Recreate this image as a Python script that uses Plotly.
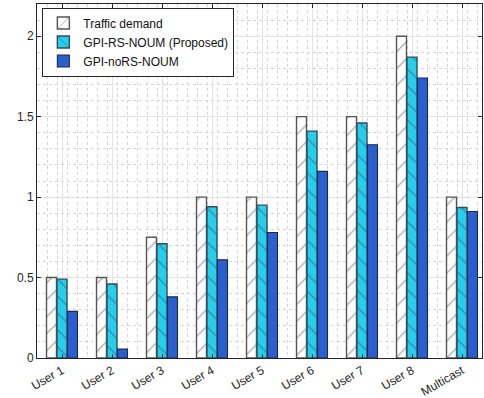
import plotly.graph_objects as go

categories = ["User 1", "User 2", "User 3", "User 4", "User 5", "User 6", "User 7", "User 8", "Multicast"]
traffic_demand = [0.5, 0.5, 0.75, 1.0, 1.0, 1.5, 1.5, 2.0, 1.0]
gpi_rs_noum = [0.49, 0.46, 0.71, 0.94, 0.95, 1.41, 1.46, 1.87, 0.935]
gpi_nors_noum = [0.29, 0.055, 0.38, 0.61, 0.78, 1.16, 1.325, 1.74, 0.91]
y_ticks = [0, 0.5, 1, 1.5, 2]
y_ticklabels = ["0", "0.5", "1", "1.5", "2"]

x = list(range(1, len(categories) + 1))

fig = go.Figure()
fig.add_trace(go.Bar(
    x=x, y=traffic_demand, name="Traffic demand",
    marker=dict(color="white", line=dict(color="#555555", width=1.4),
                pattern=dict(shape="/", fgcolor="#333333", bgcolor="white", size=12, solidity=0.1)),
))
fig.add_trace(go.Bar(
    x=x, y=gpi_rs_noum, name="GPI-RS-NOUM (Proposed)",
    marker=dict(color="#22d0ee", line=dict(color="#3a4a5a", width=1.4),
                pattern=dict(shape="\\", fgcolor="#1f3a5a", bgcolor="#22d0ee", size=12, solidity=0.1)),
))
fig.add_trace(go.Bar(
    x=x, y=gpi_nors_noum, name="GPI-noRS-NOUM",
    marker=dict(color="#2a5fd0", line=dict(color="#1a2a50", width=1.1)),
))

axis_common = dict(
    showline=True, linecolor="#262626", linewidth=1, mirror="ticks",
    ticks="inside", ticklen=4, tickcolor="#262626",
    showgrid=True, gridcolor="#e3e3e3", gridwidth=1,
    zeroline=False, automargin=False,
    tickfont=dict(family="Liberation Sans, Arial, sans-serif", size=12, color="#262626"),
)

fig.update_layout(
    width=484, height=398,
    margin=dict(l=37, r=2, t=4, b=40, autoexpand=False),
    paper_bgcolor="white", plot_bgcolor="white",
    barmode="group", bargap=0.37, bargroupgap=0.05,
    font=dict(family="Liberation Sans, Arial, sans-serif", size=12, color="#262626"),
    legend=dict(x=0.012, y=0.99, xanchor="left", yanchor="top",
                bgcolor="white", bordercolor="#262626", borderwidth=1,
                font=dict(size=12, color="#111111"), tracegroupgap=0,
                itemwidth=30),
    showlegend=True,
)
fig.update_xaxes(
    range=[0.5, 9.4], tickvals=x, ticktext=categories, tickangle=-30,
    minor=dict(dtick=0.2, tick0=0.5, showgrid=True, gridcolor="#d6d6d6", griddash="dot", gridwidth=1, ticks=""),
    **axis_common,
)
fig.update_yaxes(
    range=[0, 2.2], tickvals=y_ticks, ticktext=y_ticklabels,
    minor=dict(dtick=0.1, tick0=0, showgrid=True, gridcolor="#d6d6d6", griddash="dot", gridwidth=1, ticks=""),
    **axis_common,
)

fig.write_html("out.html", config={"displayModeBar": False},
               post_script="document.body.style.margin='0';document.body.style.overflow='hidden';")
